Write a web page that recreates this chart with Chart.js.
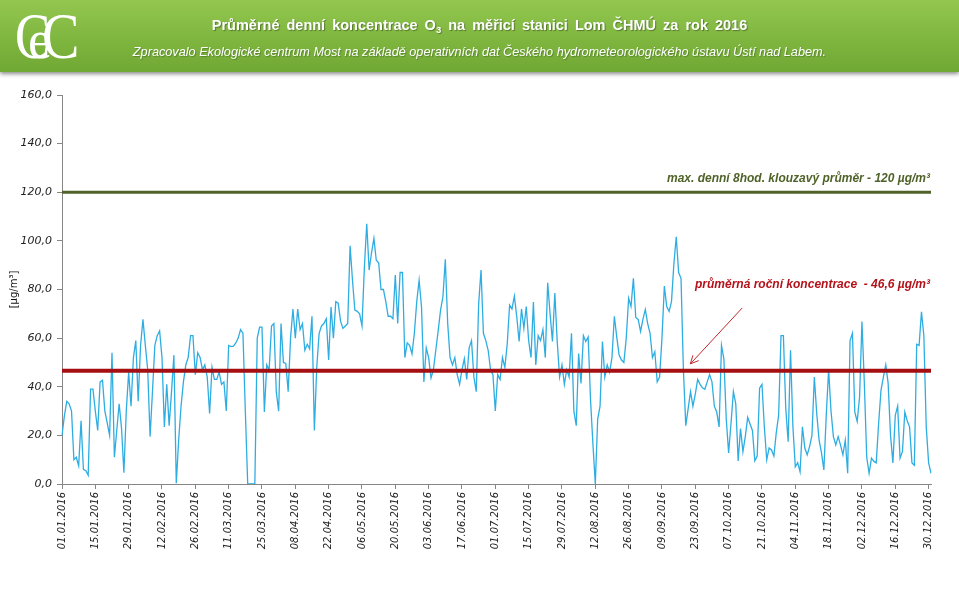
<!DOCTYPE html>
<html><head><meta charset="utf-8">
<script src="https://cdn.jsdelivr.net/npm/chart.js@4.4.1/dist/chart.umd.min.js"></script>
<style>
html,body{margin:0;padding:0;background:#fff;width:959px;height:591px;overflow:hidden;}
#wrap{position:relative;width:959px;height:591px;}
#hdr{position:absolute;left:0;top:0;width:959px;height:72px;background:linear-gradient(to bottom,#93c64f 0%,#82b942 45%,#70a834 100%);box-shadow:0 2px 4px rgba(0,0,0,0.45);z-index:2;overflow:hidden;}
#title{position:absolute;left:0;width:959px;top:17px;text-align:center;font:bold 14.5px "Liberation Sans",Arial,sans-serif;color:#fff;word-spacing:3px;text-shadow:1px 1px 1px rgba(0,0,0,0.35);}
#title sub{font-size:9.5px;vertical-align:-3px;line-height:0;}
#sub{position:absolute;left:0;width:959px;top:45px;text-align:center;font:italic 12.7px "Liberation Sans",Arial,sans-serif;color:#fff;text-shadow:1px 1px 1px rgba(0,0,0,0.25);}
.lg{position:absolute;color:#fff;font-family:"Liberation Serif","DejaVu Serif",serif;line-height:1;}
canvas{position:absolute;left:0;top:0;}
</style></head>
<body><div id="wrap">
<canvas id="c" width="959" height="591"></canvas>
<div id="hdr">
  <span class="lg" style="left:15px;top:3px;font-size:66px;transform:scaleX(0.8);transform-origin:left top;">C</span>
  <span class="lg" style="left:28px;top:13px;font-size:54px;">e</span>
  <span class="lg" style="left:42px;top:3px;font-size:66px;transform:scaleX(0.85);transform-origin:left top;">C</span>
  <div id="title">Průměrné denní koncentrace O<sub>3</sub> na měřicí stanici Lom ČHMÚ za rok 2016</div>
  <div id="sub">Zpracovalo Ekologické centrum Most na základě operativních dat Českého hydrometeorologického ústavu Ústí nad Labem.</div>
</div>
</div>
<script>
// Daily mean O3 concentrations, µg/m3, per month of 2016
const jan = [20,28,34,33,30,10,11,7.5,26,6,5.5,3.6,39,39,30,22,42,42.7,30,25,20,54,11,22,33,23,4.6,30,46,32,52];
const feb = [59,34,57,67.7,57,47,19.5,38,57,61,63,52,23.5,41,24,38,53,0.3,18,32,42,49,52,61,61,45,54,52,47];
const mar = [49,44,29,48,43,43,46,41,42,30,57,56.5,56.7,58,60,63.5,62,30,0,0,0,0,60,64.5,64.5,29.6,49,47,65,66,38];
const apr = [30,66,50,49.6,38,60,72,60,72,63.5,66,55,57.5,55.6,69,22,48,62,65,66,68,51,72.8,60,75,74.4,67,64,65,66];
const may = [98,84,71.5,71,70,65,89,107,88,95,101,92,91,80,80,75,69,69,68,86,66,87,87,52,58,57,53.5,62,75,83.8,72.9];
const jun = [42,56,52,43.6,47,55,63,71.5,77,92.4,66,52,49,52,45,41,47,51.5,43,56,59,44,38,74,88,62,59,55,47,45];
const jul = [30,45,43,52,48,57.5,73.6,72,77.3,68.9,58.6,72,64,73,59,52,74.8,49,61,59,63.5,52,82.8,70,58.6,78.5,58.6,44,49,41,47];
const aug = [44,62,30,24,53.7,41.4,61,58.6,60.5,34.5,16.5,0,26.7,32,58.6,44,49,46,52,69,60.5,53,51,50,60,76.4,73,84.6,68.5,67.7,62.8];
const sep = [67.7,71.8,66,62,52,54.4,42,44,60,81.4,73,71,75,90.5,101.7,87,84.6,47,24,31,38,32,37,43,41,39.6,39,42,45,42];
const oct = [32,29.6,23.5,57,51.5,26.7,12.8,25,38,33,9.5,22.8,13.3,19.5,27.4,24.7,22,9.5,11.5,39.4,41,23.5,10,14.8,14,11.5,21,28.2,61,61,31];
const nov = [17.4,55,23.5,7.1,8.8,5,23.5,14.8,12,15.4,20,44,29,18,12.8,5.8,28.2,47,30,19.5,16.1,19.5,16,12,18,4.4,59,62,29.6,25.7];
const dec = [35.8,66.8,41.4,11,4.4,10.6,9.3,8.7,24.9,38.6,44,49,41.4,20,8.7,28.2,32,10.6,13.3,29.6,26,23.5,8.7,7.7,57.5,57,70.8,61,23.5,8.7,4.4];
const values = [].concat(jan,feb,mar,apr,may,jun,jul,aug,sep,oct,nov,dec);

const LIMIT = 120;          // max. denní 8hod. klouzavý průměr
const MEAN = 46.6;          // průměrná roční koncentrace
const LIMIT_TEXT = 'max. denní 8hod. klouzavý průměr - 120 µg/m³';
const MEAN_TEXT = 'průměrná roční koncentrace  - 46,6 µg/m³';
const MEAN_TEXT_AT = 80.5;  // value level of the mean label
const ARROW_FROM = [285.7, 72.4];  // [day index, value]
const ARROW_TO = [263.9, 49.4];
const LABEL_STEP = 14;      // a date label every 14 days
const Y_MIN = 0, Y_MAX = 160, Y_STEP = 20;

const pad = n => (n < 10 ? '0' : '') + n;
const categories = values.map((v, i) => {
  const d = new Date(2016, 0, 1 + i);
  return pad(d.getDate()) + '.' + pad(d.getMonth() + 1) + '.' + d.getFullYear();
});

const GREEN = '#4f6228', RED = '#a50f12', RED_TEXT = '#b3121a', BLUE = '#2eade2', AXIS = '#868686';

const refPlugin = {
  id: 'refs',
  afterDatasetsDraw(chart) {
    const {ctx, chartArea: a, scales: {x, y}} = chart;
    ctx.save();
    const yl = y.getPixelForValue(LIMIT);
    ctx.strokeStyle = GREEN; ctx.lineWidth = 3;
    ctx.beginPath(); ctx.moveTo(a.left, yl); ctx.lineTo(a.right, yl); ctx.stroke();
    const ym = y.getPixelForValue(MEAN);
    ctx.strokeStyle = RED; ctx.lineWidth = 4;
    ctx.beginPath(); ctx.moveTo(a.left, ym); ctx.lineTo(a.right, ym); ctx.stroke();

    ctx.font = 'italic bold 12px "Liberation Sans", Arial, sans-serif';
    ctx.textAlign = 'right'; ctx.textBaseline = 'alphabetic';
    ctx.fillStyle = GREEN; ctx.fillText(LIMIT_TEXT, a.right - 1, yl - 10);
    ctx.fillStyle = RED_TEXT; ctx.fillText(MEAN_TEXT, a.right - 1, y.getPixelForValue(MEAN_TEXT_AT));

    const x1 = x.getPixelForValue(ARROW_FROM[0]), y1 = y.getPixelForValue(ARROW_FROM[1]);
    const x2 = x.getPixelForValue(ARROW_TO[0]), y2 = y.getPixelForValue(ARROW_TO[1]);
    ctx.strokeStyle = '#c0282d'; ctx.lineWidth = 1;
    ctx.beginPath(); ctx.moveTo(x1, y1); ctx.lineTo(x2, y2); ctx.stroke();
    const ang = Math.atan2(y2 - y1, x2 - x1), L = 9, W = 0.45;
    ctx.beginPath();
    ctx.moveTo(x2 - L * Math.cos(ang - W), y2 - L * Math.sin(ang - W));
    ctx.lineTo(x2, y2);
    ctx.lineTo(x2 - L * Math.cos(ang + W), y2 - L * Math.sin(ang + W));
    ctx.stroke();
    ctx.restore();
  }
};

new Chart(document.getElementById('c'), {
  type: 'line',
  data: {
    labels: categories,
    datasets: [{
      data: values,
      borderColor: BLUE,
      borderWidth: 1.3,
      pointRadius: 0,
      tension: 0,
      fill: false
    }]
  },
  options: {
    responsive: false,
    animation: false,
    devicePixelRatio: 1,
    layout: {padding: {top: 95, left: 0, right: 28, bottom: 0}},
    plugins: {legend: {display: false}, tooltip: {enabled: false}},
    scales: {
      x: {
        type: 'category',
        offset: false,
        grid: {display: true, drawOnChartArea: false, drawTicks: true, tickLength: 5, color: AXIS},
        border: {display: true, color: AXIS, width: 1},
        ticks: {
          autoSkip: false,
          minRotation: 90, maxRotation: 90,
          padding: 3,
          color: '#222',
          font: {family: '"DejaVu Sans", Verdana, sans-serif', size: 10, style: 'italic'},
          callback: function (val, i) { return i % LABEL_STEP === 0 ? this.getLabelForValue(val) : null; }
        },
        afterFit(s) { s.height = 107; }
      },
      y: {
        min: Y_MIN, max: Y_MAX,
        grid: {display: true, drawOnChartArea: false, drawTicks: true, tickLength: 5, color: AXIS},
        border: {display: true, color: AXIS, width: 1},
        ticks: {
          stepSize: Y_STEP,
          padding: 5,
          color: '#222',
          font: {family: '"DejaVu Sans", Verdana, sans-serif', size: 11, style: 'italic'},
          callback: v => v.toFixed(1).replace('.', ',')
        },
        title: {
          display: true, text: '[µg/m³]', color: '#111',
          font: {family: '"DejaVu Sans", Verdana, sans-serif', size: 10},
          padding: {top: 8, bottom: 0}
        },
        afterFit(s) { s.width = 62; }
      }
    }
  },
  plugins: [refPlugin]
});
</script>
</body></html>
